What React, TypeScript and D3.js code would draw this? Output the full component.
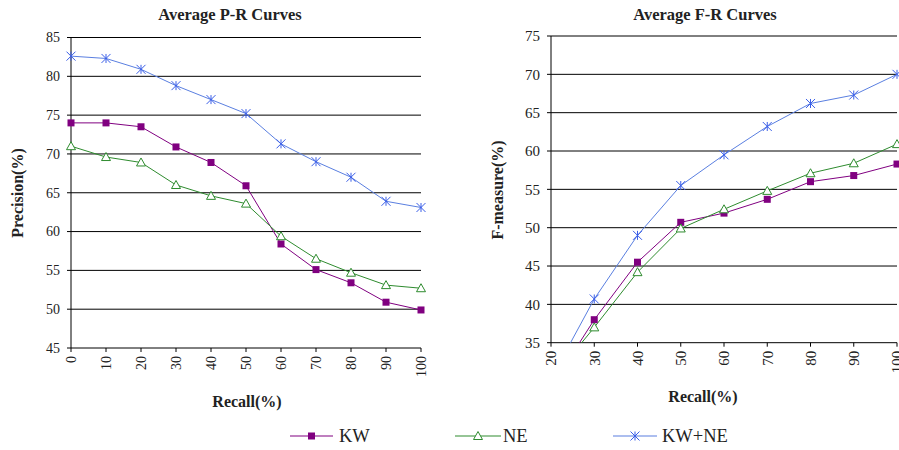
import React from "react";
import * as d3 from "d3";

const recall = [0, 10, 20, 30, 40, 50, 60, 70, 80, 90, 100];
const prKW = [74.0, 74.0, 73.5, 70.9, 68.9, 65.9, 58.4, 55.1, 53.4, 50.9, 49.9];
const prNE = [71.0, 69.6, 68.9, 66.0, 64.6, 63.6, 59.4, 56.5, 54.7, 53.1, 52.7];
const prKWNE = [82.6, 82.3, 80.9, 78.8, 77.0, 75.2, 71.3, 69.0, 67.0, 63.9, 63.1];

const recallF = [20, 30, 40, 50, 60, 70, 80, 90, 100];
const frKW = [29.2, 38.0, 45.5, 50.7, 51.9, 53.7, 56.0, 56.8, 58.3];
const frNE = [30.1, 37.0, 44.2, 49.9, 52.4, 54.8, 57.1, 58.4, 60.9];
const frKWNE = [30.3, 40.7, 49.0, 55.5, 59.5, 63.2, 66.2, 67.3, 70.0];

const prYTicks = [45, 50, 55, 60, 65, 70, 75, 80, 85];
const frYTicks = [35, 40, 45, 50, 55, 60, 65, 70, 75];
const seriesNames = ["KW", "NE", "KW+NE"];

const C_KW = "#800080";
const C_NE = "#2e8b2e";
const C_KWNE = "#5a7fe0";
const C_KWNE_M = "#3a5ee8";
const SERIF = "'Liberation Serif', 'Times New Roman', serif";

function Marker({ kind, x, y }: { kind: number; x: number; y: number }) {
  if (kind === 0) {
    return <rect x={x - 3.5} y={y - 3.5} width={7} height={7} fill={C_KW} />;
  }
  if (kind === 1) {
    return (
      <path
        d={`M${x},${y - 4.5}L${x + 4.5},${y + 3.5}L${x - 4.5},${y + 3.5}Z`}
        fill="white"
        stroke={C_NE}
        strokeWidth={1}
      />
    );
  }
  const s = 4.5;
  return (
    <g stroke={C_KWNE_M} strokeWidth={1}>
      <line x1={x} y1={y - s} x2={x} y2={y + s} />
      <line x1={x - s} y1={y - s} x2={x + s} y2={y + s} />
      <line x1={x - s} y1={y + s} x2={x + s} y2={y - s} />
    </g>
  );
}

function Chart(props: {
  id: string;
  title: string;
  yLabel: string;
  x0: number;
  x1: number;
  y0: number;
  y1: number;
  xDomain: [number, number];
  yTicks: number[];
  xs: number[];
  series: number[][];
  titleX: number;
  yLabelX: number;
  yLabelY: number;
  xLabelX: number;
  fontSize: number;
}) {
  const { id, x0, x1, y0, y1, xDomain, yTicks, xs, series } = props;
  const x = d3.scaleLinear().domain(xDomain).range([x0, x1]);
  const y = d3
    .scaleLinear()
    .domain([yTicks[0], yTicks[yTicks.length - 1]])
    .range([y1, y0]);
  const line = d3
    .line<number>()
    .x((_, i) => x(xs[i]))
    .y((d) => y(d));
  const colors = [C_KW, C_NE, C_KWNE];
  return (
    <g>
      <defs>
        <clipPath id={id}>
          <rect x={x0 - 6} y={y0 - 6} width={x1 - x0 + 12} height={y1 - y0 + 6} />
        </clipPath>
      </defs>
      <text
        x={props.titleX}
        y={20}
        textAnchor="middle"
        fontFamily={SERIF}
        fontWeight="bold"
        fontSize={16.5}
        fill="#222"
      >
        {props.title}
      </text>
      {yTicks.slice(1).map((t) => (
        <line key={t} x1={x0} x2={x1} y1={y(t)} y2={y(t)} stroke="#000" strokeWidth={1} />
      ))}
      <line x1={x0} x2={x0} y1={y0} y2={y1} stroke="#000" />
      <line x1={x0} x2={x1} y1={y1} y2={y1} stroke="#000" />
      {yTicks.map((t) => (
        <g key={t}>
          <line x1={x0 - 4} x2={x0} y1={y(t)} y2={y(t)} stroke="#000" />
          <text
            x={x0 - 11}
            y={y(t)}
            dy="0.35em"
            textAnchor="end"
            fontFamily={SERIF}
            fontSize={props.fontSize}
            fill="#222"
          >
            {t}
          </text>
        </g>
      ))}
      {xs.map((t) => (
        <g key={t}>
          <line x1={x(t)} x2={x(t)} y1={y1} y2={y1 + 4} stroke="#000" />
          <text
            transform={`translate(${x(t)},${y1 + 8}) rotate(-90)`}
            dy="0.35em"
            textAnchor="end"
            fontFamily={SERIF}
            fontSize={props.fontSize}
            fill="#222"
          >
            {t}
          </text>
        </g>
      ))}
      <text
        x={props.xLabelX}
        y={y1 + 59}
        textAnchor="middle"
        fontFamily={SERIF}
        fontWeight="bold"
        fontSize={16}
        fill="#222"
      >
        Recall(%)
      </text>
      <text
        transform={`translate(${props.yLabelX},${props.yLabelY}) rotate(-90)`}
        textAnchor="middle"
        fontFamily={SERIF}
        fontWeight="bold"
        fontSize={16}
        fill="#222"
      >
        {props.yLabel}
      </text>
      <g clipPath={`url(#${id})`}>
        {series.map((s, k) => (
          <path key={k} d={line(s) || ""} fill="none" stroke={colors[k]} strokeWidth={1} />
        ))}
        {series.map((s, k) =>
          s.map((v, i) =>
            v >= yTicks[0] ? <Marker key={`${k}-${i}`} kind={k} x={x(xs[i])} y={y(v)} /> : null
          )
        )}
      </g>
    </g>
  );
}

export default function App() {
  const legend = [
    { x1: 290, x2: 333, tx: 339 },
    { x1: 455, x2: 501, tx: 503 },
    { x1: 613, x2: 657, tx: 662 },
  ];
  const colors = [C_KW, C_NE, C_KWNE];
  return (
    <svg
      width={899}
      height={450}
      style={{ position: "absolute", left: 0, top: 0, background: "#fff" }}
    >
      <rect width={899} height={450} fill="#fff" />
      <Chart
        id="clipA"
        title="Average P-R Curves"
        yLabel="Precision(%)"
        x0={71}
        x1={421}
        y0={37.5}
        y1={348}
        xDomain={[0, 100]}
        yTicks={prYTicks}
        xs={recall}
        series={[prKW, prNE, prKWNE]}
        titleX={230}
        yLabelX={23}
        yLabelY={193}
        xLabelX={247}
        fontSize={14}
      />
      <Chart
        id="clipB"
        title="Average F-R Curves"
        yLabel="F-measure(%)"
        x0={551}
        x1={897}
        y0={36}
        y1={342.7}
        xDomain={[20, 100]}
        yTicks={frYTicks}
        xs={recallF}
        series={[frKW, frNE, frKWNE]}
        titleX={705}
        yLabelX={503}
        yLabelY={190}
        xLabelX={703}
        fontSize={15}
      />
      {legend.map((l, k) => (
        <g key={k}>
          <line x1={l.x1} x2={l.x2} y1={436} y2={436} stroke={colors[k]} strokeWidth={1.2} />
          <Marker kind={k} x={(l.x1 + l.x2) / 2} y={436} />
          <text
            x={l.tx}
            y={436}
            dy="0.35em"
            fontFamily={SERIF}
            fontSize={18.5}
            fill="#222"
          >
            {seriesNames[k]}
          </text>
        </g>
      ))}
    </svg>
  );
}
